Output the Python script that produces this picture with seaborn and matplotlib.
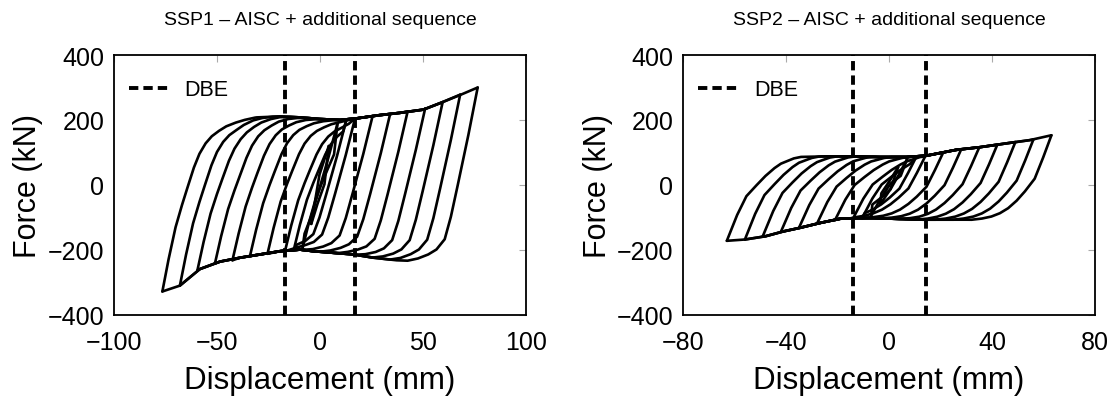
import numpy as np
import pandas as pd
import seaborn as sns
import matplotlib.pyplot as plt

# ---- SSP1 ----
ssp1_amp = [4.25, 8.5, 12.75, 17, 25.5, 34, 42.5, 51, 59.5, 68, 76.5]
ssp1_fpos = [120, 190, 200, 205, 212, 218, 226, 235, 255, 278, 300]
ssp1_fneg = [-120, -195, -200, -204, -212, -219, -232, -242, -263, -310, -328]
ssp1_up_x = [-77, -60, -50, -40, -30.7, -19.4, -9.7, 0, 9.7, 17.8, 29, 38.8, 50.2, 58.3, 68, 76.5]
ssp1_up_f = [190, 195, 198, 200, 208, 211, 208, 203, 200, 205, 215, 222, 232, 252, 277, 300]
ssp1_lo_x = [-76.5, -68, -58.3, -48.5, -38.8, -29.1, -19.4, -9.7, -3.2, 6.5, 16.2, 25.9, 37.2, 50, 77]
ssp1_lo_f = [-328, -310, -259, -236, -224, -214, -204, -199, -204, -209, -214, -224, -232, -235, -240]
# branch shapes: distance from reversal point, fraction of way to envelope
ssp1_rel_dx = [0, 3, 6.4, 9.5, 12.1, 15.3, 18, 21, 24, 27.5, 31, 35.6, 40, 45]
ssp1_rel_fr = [0, .19, .38, .51, .61, .73, .81, .87, .91, .94, .965, .985, .995, 1.0]
ssp1_unl_dx = [0, 4.5, 9.7, 13, 16, 20, 24, 29, 34]
ssp1_unl_fr = [0, .27, .56, .74, .87, .93, .96, .985, 1.0]
ssp1_dbe = 17

# ---- SSP2 ----
ssp2_amp = [3.5, 7, 10.5, 14, 21, 28, 35, 42, 49, 56, 63]
ssp2_fpos = [55, 80, 86, 88, 100, 110, 116, 124, 132, 140, 153]
ssp2_fneg = [-60, -95, -102, -103, -108, -119, -132, -144, -157, -168, -172]
ssp2_up_x = [-63, -50, -36, -24, -14, -3.6, 6.7, 14.4, 26, 35, 45.5, 54.6, 63]
ssp2_up_f = [75, 80, 86, 88, 88, 86, 86, 90, 108, 116, 128, 138, 153]
ssp2_lo_x = [-63, -56, -48, -41, -34.6, -26.8, -19, -12.6, -6, 1.6, 13, 22, 30, 45, 63]
ssp2_lo_f = [-172, -168, -158, -143, -132, -117, -104, -102, -102, -104, -107, -107, -107, -108, -110]
ssp2_rel_dx = [0, 4, 7.6, 11.5, 15, 18.5, 21, 23.7, 26, 28.8]
ssp2_rel_fr = [0, .32, .55, .68, .79, .88, .93, .96, .985, 1.0]
ssp2_unl_dx = [0, 3.2, 6.5, 10.3, 13.5, 16.8, 20, 23.3, 27, 31]
ssp2_unl_fr = [0, .26, .51, .66, .77, .86, .92, .96, .985, 1.0]
ssp2_dbe = 14.2


def branch(x0, f0, x1, f1, tdx, tfr, ex, ef):
    s = 1 if x1 > x0 else -1
    span = abs(x1 - x0)
    xs, fs = [], []
    for dx, fr in zip(tdx, tfr):
        if dx >= span:
            break
        x = x0 + s * dx
        xs.append(x)
        fs.append(f0 + fr * (np.interp(x, ex, ef) - f0))
    last = x0 + s * tdx[-1]
    pts = list(zip(ex, ef))[::s]
    for px, pf in pts:
        if s * (px - last) > 0 and s * (x1 - px) > 0:
            xs.append(px)
            fs.append(pf)
    xs.append(x1)
    fs.append(f1)
    return xs, fs


def loops(amp, fpos, fneg, upx, upf, lox, lof, rdx, rfr, udx, ufr):
    rows = []
    seg = 0
    for d, fp, fn in zip(amp, fpos, fneg):
        xs, fs = branch(-d, fn, d, fp, rdx, rfr, upx, upf)
        rows += [(x, f, seg) for x, f in zip(xs, fs)]
        seg += 1
        xs, fs = branch(d, fp, -d, fn, udx, ufr, lox, lof)
        rows += [(x, f, seg) for x, f in zip(xs, fs)]
        seg += 1
    return pd.DataFrame(rows, columns=["disp", "force", "seg"])


sns.set_style("white")
plt.rcParams['font.family'] = ['Liberation Sans', 'DejaVu Sans']
plt.rcParams['text.color'] = 'black'
plt.rcParams['axes.labelcolor'] = 'black'

fig = plt.figure(figsize=(11.17, 4.06), dpi=100)
ax1 = fig.add_axes([0.102, 0.222, 0.369, 0.640])
ax2 = fig.add_axes([0.6115, 0.222, 0.369, 0.640])

panels = [
    (ax1, loops(ssp1_amp, ssp1_fpos, ssp1_fneg, ssp1_up_x, ssp1_up_f, ssp1_lo_x, ssp1_lo_f,
                ssp1_rel_dx, ssp1_rel_fr, ssp1_unl_dx, ssp1_unl_fr),
     ssp1_dbe, (-100, 100), [-100, -50, 0, 50, 100], "SSP1 \u2013 AISC + additional sequence"),
    (ax2, loops(ssp2_amp, ssp2_fpos, ssp2_fneg, ssp2_up_x, ssp2_up_f, ssp2_lo_x, ssp2_lo_f,
                ssp2_rel_dx, ssp2_rel_fr, ssp2_unl_dx, ssp2_unl_fr),
     ssp2_dbe, (-80, 80), [-80, -40, 0, 40, 80], "SSP2 \u2013 AISC + additional sequence"),
]

for ax, df, dbe, xlim, xticks, title in panels:
    sns.lineplot(data=df, x="disp", y="force", units="seg", estimator=None, sort=False,
                 color="black", lw=1.9, ax=ax, legend=False)
    ax.axvline(-dbe, color="black", lw=2.8, ls=(0, (2.4, 1.3)), label="DBE")
    ax.axvline(dbe, color="black", lw=2.8, ls=(0, (2.4, 1.3)))
    ax.set_xlim(xlim)
    ax.set_ylim(-400, 400)
    ax.set_xticks(xticks)
    ax.set_yticks([-400, -200, 0, 200, 400])
    ax.tick_params(direction="in", length=5, width=0.8, color="#aaaaaa",
                   top=True, right=True, labelsize=18, labelcolor="black")
    ax.tick_params(axis="x", pad=11)
    ax.tick_params(axis="y", pad=7)
    for sp in ax.spines.values():
        sp.set_color("black")
        sp.set_linewidth(1.3)
    ax.set_xlabel("Displacement (mm)", fontsize=22.5, labelpad=8)
    ax.set_ylabel("Force (kN)", fontsize=22, labelpad=3)
    ax.set_title(title, fontsize=14, pad=22, color="black")
    ax.legend(loc="upper left", bbox_to_anchor=(0.015, 0.94), frameon=False, fontsize=15.5,
              handlelength=2.0, handletextpad=0.6, borderaxespad=0)

fig.savefig("out.png", dpi=100)
